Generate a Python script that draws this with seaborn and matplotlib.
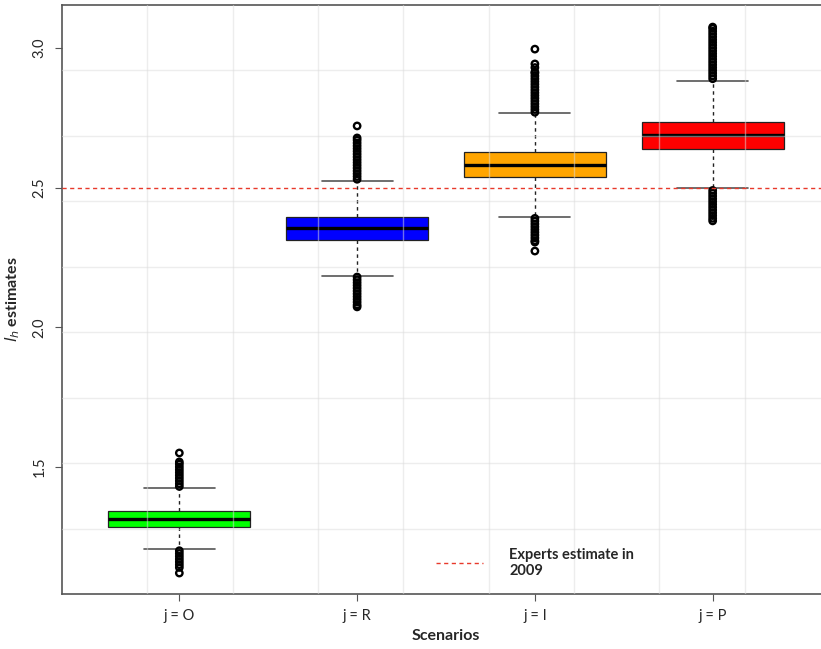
import numpy as np
import pandas as pd
import matplotlib
matplotlib.use("Agg")
import matplotlib.pyplot as plt
from matplotlib.lines import Line2D
import seaborn as sns

# Scenarios and five-number summaries
scenarios = ["j = O", "j = R", "j = I", "j = P"]
box_colors = ["#00ff00", "#0000ff", "#ffa500", "#ff0000"]
whisker_low = [1.206, 2.184, 2.395, 2.499]
q1 = [1.285, 2.313, 2.538, 2.638]
median = [1.314, 2.354, 2.581, 2.688]
q3 = [1.342, 2.395, 2.628, 2.735]
whisker_high = [1.425, 2.524, 2.767, 2.882]

# outlier values (dense columns beyond the whiskers)
outliers_O = [1.43, 1.44, 1.45, 1.46, 1.47, 1.48, 1.49, 1.50, 1.51, 1.518, 1.55,
              1.20, 1.19, 1.18, 1.17, 1.16, 1.15, 1.14, 1.12]
outliers_R = [2.53, 2.54, 2.55, 2.56, 2.57, 2.58, 2.59, 2.60, 2.61, 2.62, 2.63,
              2.64, 2.65, 2.66, 2.67, 2.678, 2.721,
              2.18, 2.17, 2.16, 2.15, 2.14, 2.13, 2.12, 2.11, 2.10, 2.09, 2.08, 2.073]
outliers_I = [2.77, 2.78, 2.79, 2.80, 2.81, 2.82, 2.83, 2.84, 2.85, 2.86, 2.87,
              2.88, 2.89, 2.90, 2.91, 2.914, 2.93, 2.943, 2.996,
              2.39, 2.38, 2.37, 2.36, 2.35, 2.34, 2.33, 2.32, 2.31, 2.305, 2.273]
outliers_P = [2.89, 2.90, 2.91, 2.92, 2.93, 2.94, 2.95, 2.96, 2.97, 2.98, 2.99,
              3.00, 3.01, 3.02, 3.03, 3.04, 3.05, 3.06, 3.07, 3.075,
              2.49, 2.48, 2.47, 2.46, 2.45, 2.44, 2.43, 2.42, 2.41, 2.40, 2.39, 2.381]
expert_estimate = 2.5

y_ticks = [1.5, 2.0, 2.5, 3.0]

# Build long tables for seaborn
box_df = pd.DataFrame({
    "scenario": np.repeat(scenarios, 5),
    "value": np.ravel(np.column_stack([whisker_low, q1, median, q3, whisker_high])),
})
out_df = pd.concat([
    pd.DataFrame({"scenario": s, "value": v})
    for s, v in zip(scenarios, [outliers_O, outliers_R, outliers_I, outliers_P])
])

sns.set_style("white")
plt.rcParams["font.family"] = ["Lato", "DejaVu Sans"]

fig = plt.figure(figsize=(8.21, 6.49), dpi=100)
ax = fig.add_axes([62 / 821, 55 / 649, 768 / 821, 589 / 649])

sns.boxplot(data=box_df, x="scenario", y="value", hue="scenario",
            palette=box_colors, order=scenarios, hue_order=scenarios,
            saturation=1, width=0.8, whis=(0, 100), showfliers=False,
            legend=False, ax=ax, linecolor="#222222", linewidth=0.9,
            medianprops={"color": "black", "linewidth": 2.4},
            whiskerprops={"color": "#222222", "linestyle": (0, (2.5, 2.5)), "linewidth": 1},
            capprops={"color": "#555555", "linewidth": 1.2})

sns.stripplot(data=out_df, x="scenario", y="value", order=scenarios,
              jitter=False, color="black", size=4.6, linewidth=1.7,
              edgecolor="black", ax=ax, zorder=4)
for coll in ax.collections:
    coll.set_facecolor("none")

ax.set_xlim(-0.66, 3.66)
ax.set_ylim(1.045, 3.154)

# faint grid dividing the panel into nine cells each way
for k in range(1, 9):
    ax.plot([k / 9, k / 9], [0, 1], transform=ax.transAxes,
            color="#dcdcdc", lw=1, alpha=0.5, zorder=3)
    ax.plot([0, 1], [k / 9, k / 9], transform=ax.transAxes,
            color="#dcdcdc", lw=1, alpha=0.5, zorder=3)

ax.axhline(expert_estimate, color="#e8392b", ls=(0, (3, 2.5)), lw=1, zorder=5)

ax.set_yticks(y_ticks)
ax.set_yticklabels([f"{t:.1f}" for t in y_ticks], rotation=90, va="center", fontsize=10.5)
ax.tick_params(axis="x", labelsize=10.5, length=5, width=0.8, color="#555555", pad=6)
ax.tick_params(axis="y", length=5, width=0.8, color="#555555", pad=6)
ax.tick_params(left=True, bottom=True)
ax.set_xlabel("Scenarios", fontsize=11.5, fontweight="bold", labelpad=4)
ax.set_ylabel(r"$\mathit{l_h}$ estimates", fontsize=11.5, fontweight="bold", labelpad=8)

for side in ["left", "top", "bottom", "right"]:
    ax.spines[side].set_color("#555555")
    ax.spines[side].set_linewidth(1.2)

handle = Line2D([0], [0], color="#e8392b", ls=(0, (3, 2.5)), lw=1)
leg = ax.legend([handle], ["Experts estimate in\n2009"], loc="center left",
                bbox_to_anchor=(0.47, 0.053), frameon=False, handlelength=3.2,
                handletextpad=1.8, prop={"weight": "bold", "size": 10.5})

fig.savefig("out.png", dpi=100)
